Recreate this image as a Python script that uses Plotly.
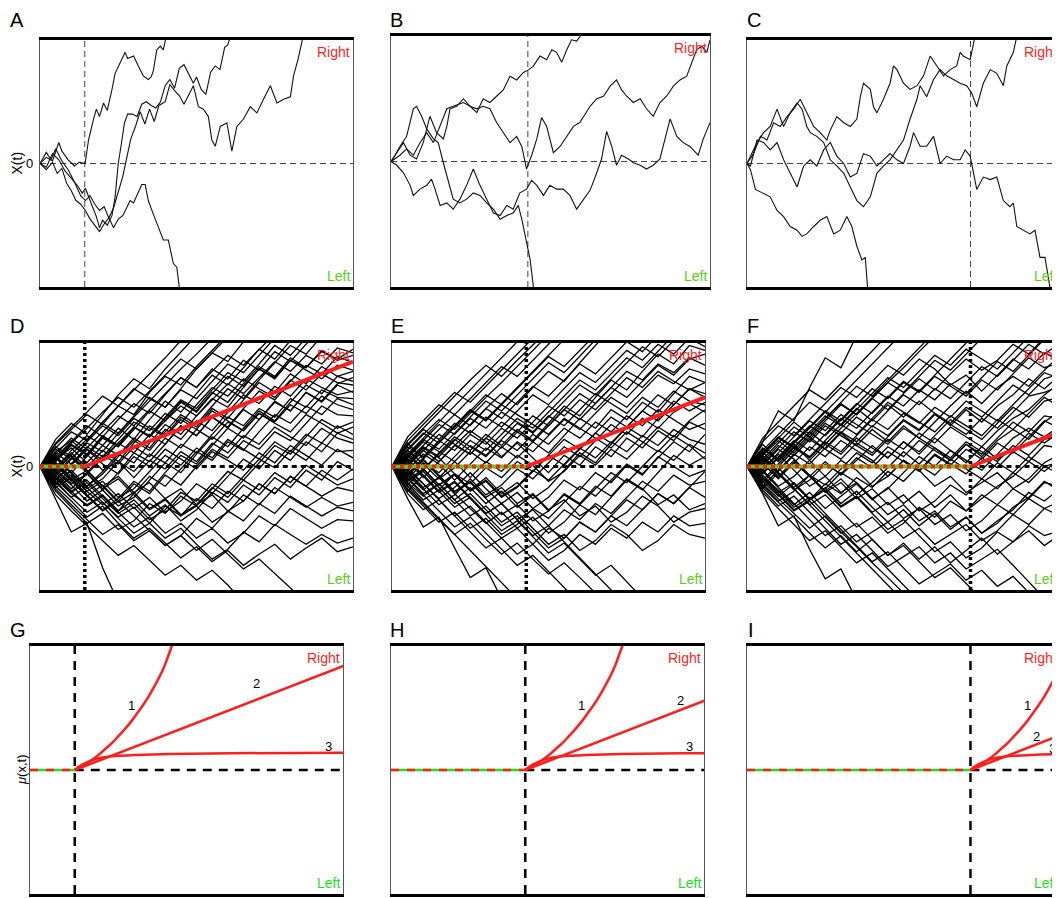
import plotly.graph_objects as go

# ------------------------------------------------------------------ data
panel_letters = ["A", "B", "C", "D", "E", "F", "G", "H", "I"]
onset_t = [14.3, 42.9, 71.4]          # time of the vertical marker in each column
t_range = [0, 100]
x_range = [-10, 10]

# ---- panels A-C : a few single trajectories (time, X(t)) ----
A_t = [
    [0, 2, 4, 6, 7, 9, 11, 12.5, 14.4, 15.5, 17, 18, 19, 20.3, 21.5, 22.4, 23, 24, 25.6, 27.2, 28, 28.8, 29.9,
     31.4, 33, 34.6, 35.5, 36.2, 37.3, 38.4, 39.4, 40.5],
    [0, 2, 4, 6, 8, 10, 12, 13.5, 14.5, 16, 18, 19, 20, 21.5, 23, 24, 25, 26, 27, 28, 29.5, 31, 32.5, 34, 35.5,
     37, 38.5, 40, 41.5, 43, 44.5, 46, 47.5, 49, 50, 51.5, 53, 54.5, 56, 57.5, 59, 60, 61],
    [0, 2, 3.5, 5, 7, 9, 11, 13, 14.5, 16, 17.5, 19, 20.5, 22, 23.5, 25, 26.5, 28, 29, 30.5, 32, 33.5, 35, 36.5,
     38, 40, 41.5, 43, 44.5, 46, 47.5, 49, 50.6, 52.2, 53.8, 54.9, 56, 57.6, 59.7, 61.3, 62.9, 65, 67.2, 69.3,
     71.4, 73.6, 75.7, 77.8, 80, 81, 82.5, 83.7, 84.5],
    [0, 2, 4, 5.5, 7, 8.5, 10, 11.5, 13, 14.5, 16, 17.5, 19, 20.5, 22, 23.5, 25, 26.5, 28.8, 29.9, 31, 32.5,
     33.6, 34.6, 36.2, 37.8, 39.4, 41, 42.6, 43.7, 44.5, 45],
]
A_x = [
    [0, 0.5, 0.2, 1.7, 1.0, 0.3, -0.2, 0.1, 0, 1.9, 3.5, 4.4, 3.8, 4.9, 4.3, 5.2, 6.0, 7.3, 8.2, 9.0, 8.5, 8.6,
     8.7, 7.9, 7.1, 6.8, 7.0, 7.5, 9.2, 9.5, 9.2, 10.5],
    [0, -0.3, 0.8, 0.3, -0.6, -1.2, -1.8, -2.4, -2.0, -3.0, -4.3, -5.2, -4.6, -5.0, -4.2, -2.7, 0, 1.6, 3.3, 4.0,
     4.0, 3.8, 4.8, 5.0, 4.7, 4.5, 5.0, 6.3, 6.8, 6.1, 7.7, 8.0, 7.3, 6.5, 7.0, 6.0, 5.6, 7.4, 7.9, 7.6, 9.4,
     9.6, 10.5],
    [0, 0.9, 0.3, 1.2, 0.2, -0.5, -1.5, -2.6, -3.0, -2.6, -3.3, -3.8, -3.5, -4.4, -3.6, -2.2, -1.0, 0.8, 2.0,
     3.0, 4.2, 3.2, 4.4, 3.4, 4.7, 5.0, 6.4, 5.9, 5.5, 4.8, 5.6, 6.3, 4.6, 4.4, 3.8, 1.9, 1.4, 3.0, 3.3, 1.0,
     3.0, 3.6, 4.6, 4.1, 5.2, 6.3, 4.9, 5.2, 5.4, 7.1, 8.5, 10, 10.8],
    [0, -0.5, 0.1, -0.8, -0.4, -1.6, -2.2, -3.0, -3.3, -3.8, -4.5, -5.0, -5.5, -4.9, -4.4, -5.2, -4.5, -4.2,
     -3.0, -3.2, -2.5, -1.7, -1.7, -3.0, -4.1, -5.1, -6.2, -6.2, -8.1, -8.4, -10, -11],
]

B_t = [
    [0, 2.8, 4.9, 7.0, 9.1, 11.2, 13.3, 15.4, 17.5, 19.5, 22.7, 24.8, 26.9, 28.9, 31.0, 33.1, 35.2, 37.3, 39.4,
     41.5, 43.1, 44.6, 46.7, 48.8, 50.4, 51.9, 53.5, 55.1, 56.6, 58.2, 59.8, 60.8],
    [0, 1.8, 3.9, 6.0, 8.0, 10.1, 12.2, 14.3, 16.4, 17.5, 18.5, 20.6, 22.7, 24.8, 26.9, 28.9, 31.0, 33.1, 35.2,
     37.3, 39.4, 41.0, 42.5, 44.1, 45.7, 47.2, 48.8, 50.9, 53.0, 55.1, 57.2, 59.2, 62.4, 64.5, 66.6, 68.7, 70.7,
     72.3, 73.9, 76.0, 78.1, 80.1, 82.2, 84.3, 86.4, 88.5, 90.6, 92.7, 94.3, 95.8, 97.4, 99.0, 100],
    [0, 1.8, 3.9, 6.0, 7.0, 9.1, 11.2, 12.7, 13.8, 15.4, 17.5, 19.5, 21.6, 23.7, 25.8, 27.9, 30.0, 32.1, 34.2,
     36.3, 38.3, 40.4, 42.5, 44.1, 45.7, 47.8, 49.8, 51.9, 54.0, 56.1, 58.2, 60.3, 62.4, 64.5, 66.0, 67.6, 69.2,
     70.7, 72.3, 74.4, 76.0, 78.1, 80.1, 82.2, 84.3, 86.4, 87.5, 89.6, 91.6, 93.7, 96.3, 97.9, 100],
    [0, 1.3, 2.8, 4.9, 7.0, 8.0, 9.6, 11.2, 13.3, 14.8, 16.4, 18.0, 19.5, 21.6, 23.7, 25.8, 27.9, 30.0, 32.1,
     34.2, 36.3, 38.3, 39.9, 41.0, 42.5, 43.6, 44.6, 45.1],
]
B_x = [
    [0, 0.5, 1.0, 0.5, 1.5, 2.3, 1.5, 2.8, 4.2, 4.4, 4.7, 4.4, 3.9, 5.0, 4.7, 5.2, 5.7, 6.8, 6.5, 7.1, 7.3, 7.6,
     8.4, 8.1, 8.9, 8.7, 7.9, 8.9, 9.7, 9.6, 10.1, 10.5],
    [0, 0.7, 1.5, 0.5, 0.2, 1.5, 3.6, 2.3, 1.8, 2.8, 4.2, 4.4, 5.0, 4.4, 4.2, 4.4, 4.2, 3.1, 2.3, 1.5, 2.0, 1.2,
     -0.6, 0.5, 1.8, 3.5, 2.8, 0.7, 1.2, 2.0, 2.8, 3.1, 4.4, 5.0, 5.2, 6.0, 6.5, 5.7, 5.2, 4.7, 5.0, 4.2, 3.6,
     4.7, 5.2, 6.0, 6.5, 6.8, 7.9, 8.9, 9.2, 8.7, 9.7],
    [0, -0.3, -0.9, -1.9, -2.7, -2.2, -1.9, -1.4, -2.2, -3.5, -3.3, -3.8, -3.0, -1.9, -0.6, -1.9, -3.0, -4.1,
     -4.3, -3.5, -3.8, -2.5, -2.2, -1.5, -1.9, -2.7, -1.9, -2.2, -2.2, -2.7, -3.8, -3.0, -2.3, -0.9, 0.2, 2.4,
     1.2, -0.3, 0.5, 0.2, -0.1, -0.3, -0.6, -0.3, 0.2, 2.3, 3.4, 2.0, 1.5, 1.2, 0.5, 1.8, 3.1],
    [0, 0.5, 1.2, 2.0, 4.2, 4.4, 3.6, 2.6, 1.8, 1.5, -0.1, -1.7, -3.0, -3.3, -3.0, -2.5, -2.7, -3.3, -3.8, -4.6,
     -4.3, -4.1, -3.5, -4.6, -6.4, -7.8, -9.9, -10.9],
]

C_t = [
    [0, 2.1, 4.3, 6.4, 8.5, 10.6, 12.8, 14.9, 17.0, 19.1, 21.3, 23.4, 25.5, 26.6, 28.7, 30.9, 33.0, 35.1, 36.2,
     37.2, 39.4, 40.4, 41.5, 43.6, 45.7, 46.8, 47.9, 50.0, 52.1, 54.3, 56.4, 58.5, 60.6, 62.8, 64.9, 67.0, 68.1,
     69.1, 71.3, 72.9, 73.4],
    [0, 1.1, 3.2, 5.3, 7.4, 9.6, 11.7, 13.8, 16.0, 17.6, 19.1, 20.2, 22.3, 24.5, 26.6, 28.7, 30.9, 33.0, 35.1,
     37.2, 39.4, 41.5, 43.6, 45.7, 47.9, 50.0, 52.1, 54.3, 55.3, 57.4, 59.6, 61.7, 63.8, 66.0, 68.1, 70.2, 71.8,
     73.4, 75.5, 77.7, 79.8, 81.9, 83.0, 85.1, 86.2, 86.7],
    [0, 1.1, 3.2, 5.3, 7.4, 9.6, 11.7, 13.8, 16.0, 18.1, 20.2, 22.3, 24.5, 26.6, 28.7, 30.9, 33.0, 35.1, 37.2,
     39.4, 41.5, 43.6, 45.7, 47.9, 50.0, 52.1, 53.2, 55.3, 57.4, 59.6, 61.7, 63.8, 66.0, 68.1, 69.7, 71.3, 73.4,
     75.5, 77.7, 79.8, 81.9, 84.0, 85.1, 86.2, 88.3, 90.4, 92.0, 93.6, 95.2, 96.8, 97.1],
    [0, 1.1, 2.7, 5.3, 7.4, 9.6, 11.7, 13.8, 16.0, 17.6, 19.1, 21.3, 23.4, 25.5, 27.7, 29.8, 31.9, 33.5, 35.1,
     36.7, 37.8, 38.5, 38.7],
]
C_x = [
    [0, 0.8, 2.2, 1.9, 3.3, 3.0, 3.8, 4.4, 5.2, 4.1, 3.0, 2.5, 1.9, 2.7, 3.8, 3.3, 3.0, 3.6, 5.4, 6.5, 6.0, 4.6,
     4.1, 5.2, 6.5, 7.9, 7.6, 6.5, 6.0, 6.3, 7.1, 8.7, 7.9, 7.1, 7.6, 7.9, 9.0, 8.7, 8.4, 10.2, 11],
    [0, 0.6, 1.7, 2.5, 3.0, 4.4, 3.0, 4.1, 4.9, 4.4, 3.0, 2.5, 2.2, 1.7, 0.3, -0.2, -0.8, -1.9, -3.0, -3.5, -2.7,
     -0.8, -0.2, 0.3, 1.1, 1.9, 3.6, 5.2, 6.3, 5.4, 6.8, 7.6, 7.1, 6.8, 6.5, 6.3, 5.7, 4.6, 6.5, 7.6, 7.3, 6.3,
     7.9, 9.0, 10.1, 10.9],
    [0, -0.2, 1.9, 1.7, 1.1, 1.7, 0.3, -0.8, -1.9, -0.2, 0.3, -0.2, 1.1, 1.7, 0.6, 0.0, -1.1, -0.8, 0.8, 0.6,
     -0.2, 0.3, 0.8, 0.3, 0.0, 1.4, 2.5, 1.4, 1.4, 2.2, 0.0, 0.6, 0.3, 0.3, 1.1, 0.6, -2.1, -1.1, -1.3, -1.1,
     -3.0, -3.5, -3.2, -5.1, -5.4, -5.7, -5.4, -7.6, -7.6, -10.0, -10.5],
    [0, -0.5, -2.1, -2.4, -2.7, -3.8, -4.3, -5.1, -5.4, -5.9, -5.7, -5.1, -4.6, -4.3, -5.7, -5.4, -4.3, -5.1,
     -6.7, -7.8, -7.6, -10.0, -10.5],
]

# ---- panels D-F : ensembles sampled every 5 time units (all start at X = 0) ----
step_t = 5
D_paths = [
    [1.5, 2.8, 2.1, 3.6, 4.9, 4.2, 6.0, 7.3, 6.6, 8.1, 9.4, 10.8, 12],
    [-0.8, 0.6, 1.9, 1.2, 2.7, 4.1, 5.6, 4.8, 6.3, 7.9, 9.2, 8.5, 10.1, 11.5],
    [0.9, -0.5, 0.8, 2.3, 1.6, 3.2, 2.5, 4.0, 5.4, 4.7, 6.2, 7.6, 6.9, 8.3, 9.8, 9.0, 10.4, 12],
    [-1.3, -2.5, -1.6, -0.4, 1.0, 0.3, 1.9, 3.4, 2.6, 4.1, 5.5, 4.8, 6.4, 7.9, 7.1, 8.6, 8.0, 9.3, 8.7, 9.5],
    [2.2, 3.5, 2.6, 4.2, 5.8, 7.1, 6.3, 7.9, 9.3, 10.6, 12],
    [-0.5, -1.8, -0.6, -1.9, -0.5, 1.1, 0.4, 1.8, 3.3, 2.5, 4.0, 3.2, 4.7, 6.1, 5.4, 6.9, 8.2, 7.5, 8.9, 8.4],
    [0.4, 1.7, 0.9, 2.4, 1.6, 3.0, 4.5, 3.7, 5.2, 4.4, 5.9, 7.3, 6.5, 7.9, 7.2, 8.6, 7.8, 7.1, 8.2, 7.8],
    [-1.7, -0.9, -2.3, -3.5, -2.6, -1.2, -2.0, -0.5, 0.9, 0.2, 1.7, 3.1, 2.3, 3.8, 5.2, 4.5, 6.0, 5.3, 6.7, 7.2],
    [1.1, 0.2, 1.6, 0.8, 2.2, 3.6, 2.9, 4.3, 3.5, 5.0, 6.4, 5.7, 7.1, 6.3, 5.6, 7.0, 6.2, 7.5, 6.8, 6.6],
    [-0.2, 1.3, 2.5, 1.7, 0.9, 2.3, 1.5, 3.0, 2.2, 3.7, 2.9, 4.4, 5.8, 5.1, 6.5, 5.7, 7.1, 6.4, 5.8, 6.1],
    [0.7, -0.6, -1.8, -1.0, 0.4, -0.4, 1.0, 0.3, 1.8, 1.1, 2.6, 4.0, 3.3, 4.7, 4.0, 5.5, 4.8, 6.2, 5.6, 5.5],
    [-1.0, -2.2, -3.1, -2.3, -3.6, -2.2, -0.8, -1.6, -0.2, 1.2, 0.5, 2.0, 1.3, 2.8, 4.2, 3.5, 4.9, 4.2, 5.5, 5.0],
    [1.8, 3.0, 4.2, 3.4, 4.9, 6.3, 5.5, 4.8, 6.2, 5.5, 6.9, 8.3, 7.6, 9.0, 10.3, 11.8],
    [-0.6, 0.7, -0.5, 0.9, 0.2, 1.6, 0.8, 2.3, 1.5, 3.0, 2.2, 3.6, 2.9, 4.3, 3.6, 5.0, 4.3, 5.7, 5.0, 4.6],
    [0.3, -1.0, -2.4, -1.5, -2.8, -1.4, -2.2, -0.7, -1.5, 0.0, 1.4, 0.7, 2.1, 1.4, 2.8, 2.1, 3.5, 4.9, 4.2, 4.1],
    [-2.0, -3.3, -4.6, -3.8, -5.1, -4.4, -3.0, -3.8, -2.4, -3.2, -1.8, -0.4, -1.1, 0.3, 1.7, 1.0, 2.4, 3.8, 3.1, 3.6],
    [1.4, 0.6, 2.0, 3.3, 2.5, 3.9, 3.1, 2.4, 3.8, 3.0, 4.5, 3.7, 2.9, 4.3, 3.5, 2.8, 4.2, 3.5, 2.7, 3.2],
    [-1.5, -0.7, -2.0, -1.2, -2.5, -1.8, -0.4, 0.9, 0.1, 1.5, 0.7, 2.2, 1.4, 0.6, 2.0, 1.2, 2.6, 1.9, 3.3, 2.6],
    [0.5, 1.8, 1.0, -0.3, 0.4, -0.9, 0.5, -0.2, 1.2, 0.4, 1.9, 1.1, 2.5, 1.8, 3.2, 2.4, 1.7, 3.1, 2.3, 1.9],
    [-0.9, -2.1, -1.3, -2.6, -3.8, -3.0, -4.3, -3.5, -2.1, -2.8, -1.4, -2.2, -0.8, 0.6, -0.1, 1.3, 0.5, 1.9, 1.2, 1.3],
    [1.0, 2.3, 1.4, 0.2, -0.6, 0.8, 0.0, 1.4, 0.6, -0.2, 1.2, 0.5, -0.3, 1.1, 0.3, 1.7, 0.9, 0.1, 1.4, 0.7],
    [-1.2, -2.5, -3.7, -2.9, -4.2, -5.4, -4.6, -3.2, -4.0, -2.6, -3.4, -2.0, -2.8, -1.4, -2.2, -0.8, -1.6, -0.3, -1.1, -0.2],
    [0.2, -1.1, -0.3, -1.6, -2.9, -2.1, -3.4, -2.6, -3.9, -3.1, -1.7, -2.5, -1.1, -1.9, -0.5, -1.3, 0.1, -0.7, -1.5, -1.0],
    [-0.4, 0.9, -0.3, -1.6, -0.8, -2.1, -1.3, -2.6, -1.8, -3.1, -2.3, -3.6, -2.8, -1.4, -2.2, -0.8, -1.6, -2.4, -1.7, -2.0],
    [1.6, 0.8, -0.5, -1.8, -1.0, -2.3, -3.5, -2.7, -4.0, -3.2, -4.5, -3.7, -2.3, -3.1, -1.7, -2.5, -3.3, -2.5, -3.2, -2.9],
    [-1.8, -3.1, -4.3, -5.5, -4.7, -6.0, -5.2, -6.4, -5.6, -4.2, -5.0, -3.6, -4.4, -3.0, -3.8, -2.4, -3.2, -4.0, -3.3, -3.6],
    [-0.7, -2.0, -3.2, -2.4, -3.7, -4.9, -4.1, -5.4, -4.6, -5.8, -5.0, -6.2, -5.4, -4.0, -4.8, -3.4, -4.2, -5.0, -4.3, -4.4],
    [0.8, -0.5, -1.7, -2.9, -4.1, -3.3, -4.6, -5.8, -5.0, -6.3, -7.5, -6.7, -5.3, -6.1, -4.7, -5.5, -6.3, -5.5, -6.2, -5.8],
    [-2.3, -3.6, -4.8, -6.0, -7.2, -6.4, -7.6, -8.8, -8.0, -9.2, -8.4, -9.6, -11],
    [-2.6, -5.3, -4.6, -8.2, -11],
    [0.6, 1.9, 3.1, 4.4, 5.6, 4.8, 6.1, 7.4, 8.7, 7.9, 9.2, 10.5, 12],
    [-0.3, 1.0, 2.2, 3.5, 2.7, 4.0, 5.3, 6.6, 7.9, 9.1, 10.4, 12],
    [1.9, 3.2, 4.4, 5.7, 4.9, 6.2, 7.5, 8.8, 10.2, 11.5],
    [-1.1, 0.2, 1.5, 2.8, 4.1, 3.3, 4.6, 5.9, 7.2, 6.4, 7.7, 9.0, 8.2, 9.5, 10.8, 12],
    [0.1, -1.2, -2.4, -3.6, -2.8, -4.0, -5.2, -6.4, -5.6, -6.8, -5.9, -7.1, -8.3, -7.5, -8.7, -9.9, -11],
    [-0.2, -1.4, -0.6, 0.7, 1.9, 3.2, 2.4, 3.7, 4.9, 4.1, 5.4, 6.7, 5.9, 7.2, 8.5, 7.7, 9.0, 8.3, 9.6, 9.2],
    [-1.4, -0.3, -1.6, -0.6, 0.8, 2.1, 1.3, 2.8, 4.2, 3.4, 4.9, 6.3, 5.5, 7.0, 8.4, 9.8, 9.1, 10.6, 12],
    [0.6, 1.5, 0.3, 1.7, 3.1, 2.2, 3.8, 5.3, 4.4, 5.9, 7.4, 6.6, 8.0, 9.5, 8.7, 10.2, 11.6],
    [-0.4, -1.5, -2.8, -1.9, -3.2, -2.5, -1.1, 0.3, -0.5, 1.0, 2.4, 1.6, 3.1, 4.5, 3.7, 5.2, 6.6, 5.9, 7.3, 6.9],
    [1.2, 2.1, 1.0, 2.5, 1.7, 3.2, 2.4, 3.9, 5.3, 4.5, 6.0, 5.2, 6.7, 8.1, 7.3, 8.8, 8.0, 9.4, 8.6, 9.0],
    [-1.1, 0.1, 1.4, 0.5, 1.9, 1.1, 2.6, 1.8, 3.3, 2.5, 4.0, 3.1, 4.6, 3.8, 5.3, 4.5, 6.0, 5.2, 6.6, 6.0],
    [0.3, -0.8, -2.0, -3.1, -2.2, -3.4, -2.5, -3.7, -2.8, -1.4, -2.2, -0.8, 0.6, -0.2, 1.3, 0.5, 2.0, 1.2, 2.7, 2.2],
    [-0.9, -2.0, -1.1, -2.4, -3.6, -2.7, -4.0, -3.1, -4.4, -3.5, -2.1, -2.9, -1.5, -2.3, -0.9, -1.7, -0.3, -1.1, 0.4, -0.3],
    [0.8, 2.0, 3.3, 2.4, 3.8, 5.1, 4.3, 5.8, 7.2, 6.4, 7.9, 7.1, 8.6, 7.8, 9.3, 8.5, 9.9, 11.3],
    [-1.6, -2.8, -4.1, -3.2, -4.6, -5.8, -5.0, -6.2, -7.4, -6.5, -7.7, -6.8, -8.0, -7.1, -6.3, -7.5, -6.6, -5.8, -6.9, -6.5],
    [0.0, 1.1, -0.1, 1.3, 0.4, 1.9, 3.3, 2.5, 4.0, 3.2, 4.7, 3.9, 5.4, 6.8, 6.0, 7.5, 6.7, 8.1, 7.3, 7.7],
]
E_paths = [
    [1.3, 2.6, 3.8, 3.0, 4.3, 5.6, 6.8, 8.1, 9.4, 10.7, 12],
    [-0.6, 0.7, 2.0, 3.3, 4.6, 3.8, 5.1, 6.4, 7.7, 9.0, 10.3, 12],
    [0.9, 2.2, 1.4, 2.7, 4.0, 5.3, 4.5, 5.8, 7.1, 8.4, 7.6, 8.9, 10.2, 11.6],
    [2.1, 3.4, 4.7, 6.0, 5.2, 6.5, 7.8, 9.1, 10.4, 12],
    [-1.0, 0.3, -0.5, 0.8, 2.1, 1.3, 2.6, 3.9, 3.1, 4.4, 5.7, 7.0, 6.2, 7.5, 8.8, 8.0, 9.3, 10.6, 12],
    [0.4, -0.9, 0.4, 1.7, 1.0, 2.3, 3.6, 2.8, 4.1, 3.3, 4.6, 5.9, 5.1, 6.4, 7.7, 7.0, 8.3, 7.6, 8.8, 8.2],
    [-0.3, 1.0, 0.2, -1.1, 0.2, 1.5, 0.7, 2.0, 1.2, 2.5, 3.8, 3.0, 4.3, 5.6, 4.8, 6.1, 7.4, 6.7, 7.9, 7.5],
    [1.6, 0.8, 2.1, 1.3, 2.6, 1.8, 3.1, 2.3, 3.6, 4.9, 4.1, 5.4, 4.6, 5.9, 7.2, 6.4, 7.7, 6.9, 6.2, 6.8],
    [-1.4, -2.7, -1.9, -0.6, -1.4, -0.1, -0.9, 0.4, -0.4, 0.9, 2.2, 1.4, 2.7, 4.0, 3.2, 4.5, 5.8, 5.0, 6.3, 5.9],
    [0.8, 2.1, 3.4, 2.6, 3.9, 3.1, 4.4, 3.6, 2.8, 4.1, 3.3, 4.6, 5.9, 5.1, 4.3, 5.6, 4.8, 6.1, 5.3, 5.0],
    [-0.5, -1.8, -3.1, -2.3, -1.0, -2.3, -1.5, -0.2, -1.0, 0.3, 1.6, 0.8, 2.1, 3.4, 2.6, 3.9, 3.1, 4.4, 5.1, 4.4],
    [1.1, -0.2, 1.1, 2.4, 1.6, 0.8, 2.1, 1.3, 2.6, 1.8, 3.1, 2.3, 3.6, 2.8, 4.1, 3.3, 4.6, 3.8, 3.0, 3.5],
    [-1.9, -3.2, -4.5, -3.7, -5.0, -4.2, -5.5, -4.7, -3.4, -4.2, -2.9, -1.6, -2.4, -1.1, 0.2, -0.6, 0.7, 2.0, 1.2, 2.6],
    [0.2, 1.5, 0.7, -0.6, -1.9, -1.1, -2.4, -1.6, -0.3, -1.1, 0.2, 1.5, 0.7, 2.0, 1.2, 2.5, 1.7, 3.0, 2.2, 1.8],
    [-0.8, 0.5, -0.8, -2.1, -1.3, -2.6, -3.9, -3.1, -4.4, -3.6, -2.3, -3.1, -1.8, -0.5, -1.3, 0.0, 1.3, 0.5, 1.8, 1.1],
    [1.4, 2.7, 1.9, 3.2, 4.5, 3.7, 5.0, 4.2, 3.4, 2.6, 3.9, 3.1, 2.3, 1.5, 2.8, 2.0, 1.2, 2.5, 1.7, 0.6],
    [-1.2, -0.4, -1.7, -3.0, -2.2, -3.5, -4.8, -4.0, -5.3, -6.6, -5.8, -4.5, -5.3, -4.0, -2.7, -3.5, -2.2, -3.0, -1.7, -0.4],
    [0.6, -0.7, -2.0, -1.2, -2.5, -3.8, -3.0, -4.3, -5.6, -4.8, -3.5, -4.3, -3.0, -3.8, -2.5, -1.2, -2.0, -0.7, -1.5, -1.2],
    [-2.2, -3.5, -2.7, -4.0, -5.3, -6.6, -5.8, -7.1, -6.3, -5.0, -5.8, -4.5, -5.3, -4.0, -4.8, -3.5, -2.2, -3.0, -1.7, -2.5],
    [1.9, 0.6, -0.7, -2.0, -1.2, -2.5, -1.7, -3.0, -2.2, -3.5, -2.7, -4.0, -3.2, -4.5, -3.7, -2.4, -3.2, -4.5, -3.7, -3.4],
    [-0.1, -1.4, -2.7, -4.0, -3.2, -4.5, -5.8, -5.0, -6.3, -7.6, -6.8, -5.5, -6.3, -5.0, -5.8, -4.5, -5.3, -4.0, -4.8, -4.6],
    [-1.6, -2.9, -4.2, -5.5, -6.8, -8.1, -9.4, -10.7, -12],
    [-2.6, -4.9, -4.1, -6.6, -9.0, -8.2, -10.7, -12],
    [-1.0, -2.3, -3.6, -4.9, -4.1, -5.4, -6.7, -8.0, -7.2, -8.5, -9.8, -11.1],
    [0.5, -0.8, -2.1, -1.3, -2.6, -3.9, -5.2, -4.4, -5.7, -7.0, -6.2, -7.5, -8.8, -8.0, -9.3, -10.6, -12],
    [1.0, 2.3, 3.6, 4.9, 6.2, 7.5, 8.8, 10.1, 11.4],
    [-0.7, 0.6, 1.9, 3.2, 4.5, 5.8, 5.0, 6.3, 7.6, 8.9, 8.1, 9.4, 10.7, 12],
    [0.3, 1.6, 0.8, 2.1, 3.4, 4.7, 3.9, 5.2, 6.5, 5.7, 7.0, 8.3, 7.5, 8.8, 10.1, 9.3, 10.6, 12],
    [-0.4, -1.7, -0.9, 0.4, 1.7, 0.9, 2.2, 3.5, 2.7, 4.0, 5.3, 6.6, 5.8, 7.1, 8.4, 9.7, 8.9, 10.2, 11.5],
    [1.7, 3.0, 2.2, 3.5, 2.7, 4.0, 3.2, 4.5, 5.8, 5.0, 6.3, 7.6, 6.8, 8.1, 9.4, 8.6, 9.9, 9.1, 10.4, 9.7],
    [-1.5, -0.2, -1.5, -0.7, -2.0, -1.2, -2.5, -1.7, -0.4, 0.9, 0.1, 1.4, 2.7, 1.9, 3.2, 4.5, 3.7, 5.0, 6.3, 5.6],
    [0.0, 1.3, 2.6, 1.8, 1.0, 2.3, 1.5, 2.8, 2.0, 3.3, 4.6, 3.8, 5.1, 6.4, 5.6, 6.9, 8.2, 7.4, 8.7, 9.1],
    [-0.9, -2.2, -1.4, -2.7, -4.0, -3.2, -4.5, -3.7, -5.0, -6.3, -5.5, -6.8, -6.0, -4.7, -5.5, -6.8, -6.0, -4.7, -5.5, -5.8],
    [0.7, 2.0, 1.2, 0.4, -0.9, 0.4, -0.4, 0.9, 0.1, -1.2, -0.4, 0.9, 0.1, 1.4, 0.6, 1.9, 3.2, 2.4, 3.7, 4.6],
    [-2.0, -0.7, -2.0, -3.3, -2.5, -3.8, -3.0, -4.3, -3.5, -4.8, -6.1, -7.4, -8.7, -10.0, -11.3],
    [2.4, 3.7, 5.0, 4.2, 5.5, 6.8, 8.1, 7.3, 8.6, 9.9, 11.2],
    [0.9, -0.3, 1.0, 2.2, 1.3, 2.6, 1.7, 3.0, 2.1, 3.5, 4.9, 4.1, 5.6, 7.0, 6.2, 7.7, 9.1, 8.3, 9.8, 9.4],
    [-1.1, -0.2, -1.5, -0.6, -1.9, -0.9, -2.2, -1.3, -2.6, -1.7, -0.3, 1.1, 0.3, 1.8, 3.2, 2.4, 3.9, 5.3, 4.5, 5.2],
    [0.5, 1.7, 3.0, 4.2, 3.3, 4.7, 5.9, 5.0, 6.4, 7.7, 6.9, 8.4, 9.8, 11.2],
    [-0.7, -1.9, -0.9, -2.2, -3.4, -4.6, -3.7, -5.0, -4.1, -5.4, -4.5, -3.1, -3.9, -2.5, -1.1, -1.9, -0.5, 0.9, 0.1, 0.8],
    [1.3, 0.2, -1.0, -0.1, 1.2, 0.3, 1.6, 0.7, 2.0, 1.1, 2.5, 3.9, 3.1, 4.6, 3.8, 5.2, 4.4, 5.9, 7.3, 6.8],
    [-1.8, -3.0, -4.3, -5.5, -4.6, -5.9, -7.1, -6.2, -7.5, -8.7, -7.8, -9.0, -10.3, -11.5],
    [0.1, 1.3, 0.4, 1.7, 2.9, 2.0, 0.8, 1.9, 0.7, -0.5, 0.9, 0.1, 1.6, 0.8, 2.3, 1.5, 2.9, 2.1, 3.6, 3.0],
    [-0.3, -1.4, -2.6, -1.7, -0.5, -1.8, -3.0, -2.1, -3.4, -2.5, -1.1, -1.9, -0.5, -1.3, 0.1, -0.7, 0.8, 0.0, -0.8, -0.3],
    [1.8, 3.1, 4.4, 5.7, 7.0, 8.2, 7.3, 8.6, 9.8, 11.0, 12.3],
    [-1.3, -2.4, -1.4, -2.7, -1.7, -3.0, -2.0, -3.3, -2.3, -3.6, -2.2, -3.0, -1.6, -2.4, -1.0, -1.8, -3.1, -2.3, -3.5, -3.0],
]
F_paths = [
    [2.0, 4.5, 3.7, 6.4, 8.8, 8.0, 10.6, 12],
    [-2.2, -4.8, -4.0, -6.7, -9.1, -8.3, -10.8, -12],
    [1.3, 2.6, 3.9, 5.2, 4.4, 5.7, 7.0, 8.3, 9.6, 10.9, 12],
    [-0.6, 0.7, 2.0, 3.3, 2.5, 3.8, 5.1, 4.3, 5.6, 6.9, 6.1, 7.4, 8.7, 10.0, 11.3],
    [0.9, -0.4, 0.9, 2.2, 3.5, 2.7, 4.0, 3.2, 4.5, 5.8, 5.0, 6.3, 5.5, 6.8, 8.1, 7.3, 8.6, 9.9, 9.1, 10.0],
    [2.0, 3.3, 2.5, 3.8, 5.1, 6.4, 5.6, 6.9, 8.2, 7.4, 8.7, 7.9, 6.6, 7.4, 6.1, 7.4, 8.7, 7.9, 9.2, 8.6],
    [-1.1, 0.2, 1.5, 0.7, 2.0, 1.2, 2.5, 3.8, 3.0, 4.3, 3.5, 4.8, 4.0, 5.3, 4.5, 3.7, 5.0, 6.3, 7.6, 7.1],
    [0.4, 1.7, 0.9, 2.2, 1.4, 0.6, 1.9, 1.1, 2.4, 3.7, 2.9, 4.2, 3.4, 2.6, 3.9, 3.1, 4.4, 5.7, 6.0, 6.5],
    [-0.3, -1.6, -0.8, 0.5, 1.8, 1.0, 2.3, 1.5, 0.7, 2.0, 1.2, 2.5, 3.8, 3.0, 2.2, 3.5, 4.8, 4.0, 5.3, 5.6],
    [1.1, 2.4, 1.6, 0.8, 2.1, 3.4, 2.6, 3.9, 5.2, 4.4, 3.6, 2.8, 4.1, 3.3, 2.5, 3.8, 3.0, 4.3, 5.6, 4.8],
    [-1.5, -2.8, -2.0, -0.7, -1.5, -0.2, 1.1, 0.3, 1.6, 0.8, 2.1, 1.3, 0.5, 1.8, 1.0, 2.3, 3.6, 2.8, 4.1, 3.9],
    [0.7, -0.6, -1.9, -1.1, 0.2, -0.6, 0.7, -0.1, 1.2, 0.4, -0.4, 0.9, 0.1, 1.4, 0.6, 1.9, 1.1, 2.4, 3.7, 3.1],
    [-0.2, 1.1, 2.4, 3.7, 2.9, 4.2, 3.4, 2.6, 1.8, 3.1, 2.3, 1.5, 0.7, 2.0, 1.2, 0.4, 1.7, 0.9, 2.2, 2.5],
    [1.8, 0.5, 1.8, 0.5, -0.8, 0.5, -0.3, -1.6, -0.8, 0.5, -0.3, 1.0, 0.2, -0.6, 0.7, -0.1, 1.2, 0.4, 1.7, 1.5],
    [-0.9, -2.2, -3.5, -2.7, -1.4, -2.2, -0.9, -1.7, -0.4, -1.2, 0.1, -0.7, 0.6, -0.2, -1.0, 0.3, -0.5, 0.8, 0.0, 0.4],
    [0.5, -0.8, 0.5, -0.8, -2.1, -1.3, -2.6, -1.8, -3.1, -2.3, -3.6, -2.8, -1.5, -2.3, -1.0, -1.8, -0.5, -1.3, 0.0, -0.6],
    [-1.8, -0.5, -1.8, -3.1, -2.3, -3.6, -4.9, -4.1, -5.4, -4.6, -3.3, -4.1, -2.8, -3.6, -2.3, -3.1, -1.8, -2.6, -1.3, -1.6],
    [1.2, -0.1, -1.4, -2.7, -1.9, -3.2, -2.4, -3.7, -2.9, -4.2, -3.4, -4.7, -3.9, -5.2, -4.4, -3.1, -3.9, -2.6, -3.4, -2.8],
    [-0.4, -1.7, -3.0, -4.3, -5.6, -4.8, -6.1, -5.3, -4.5, -5.8, -5.0, -6.3, -5.5, -4.7, -6.0, -5.2, -3.9, -4.7, -3.4, -4.0],
    [0.1, 1.4, 0.6, -0.7, -2.0, -3.3, -2.5, -3.8, -5.1, -4.3, -5.6, -6.9, -6.1, -7.4, -6.6, -5.3, -6.1, -4.8, -5.6, -5.2],
    [-2.1, -3.4, -4.7, -6.0, -5.2, -6.5, -7.8, -7.0, -8.3, -9.6, -10.9, -12],
    [-1.0, -2.3, -3.6, -2.8, -4.1, -5.4, -4.6, -5.9, -7.2, -6.4, -7.7, -9.0, -8.2, -9.5, -10.8, -12],
    [0.8, -0.5, -1.8, -3.1, -4.4, -5.7, -7.0, -8.3, -9.6, -10.9, -12],
    [-0.7, -2.0, -3.3, -2.5, -3.8, -5.1, -6.4, -7.7, -6.9, -8.2, -9.5, -8.7, -7.9, -9.2, -8.4, -9.7, -8.9, -10.2, -11.5],
    [2.3, 3.6, 4.9, 6.2, 5.4, 6.7, 8.0, 9.3, 10.6, 12],
    [-1.3, 0.0, 1.3, 2.6, 3.9, 5.2, 6.5, 5.7, 7.0, 8.3, 9.6, 10.9, 12],
    [0.6, 1.9, 3.2, 2.4, 3.7, 5.0, 4.2, 5.5, 6.8, 6.0, 7.3, 8.6, 7.8, 9.1, 10.4, 12],
    [-0.5, 0.8, 2.1, 1.3, 2.6, 3.9, 3.1, 4.4, 5.7, 4.9, 6.2, 5.4, 6.7, 5.9, 7.2, 8.5, 7.7, 9.0, 10.3, 11.6],
    [1.4, 0.6, 1.9, 3.2, 4.5, 3.7, 5.0, 6.3, 5.5, 6.8, 6.0, 7.3, 6.5, 5.7, 7.0, 6.2, 7.5, 8.8, 8.0, 8.4],
    [-1.6, -0.3, 1.0, 0.2, 1.5, 2.8, 2.0, 3.3, 2.5, 3.8, 3.0, 4.3, 3.5, 4.8, 4.0, 5.3, 6.6, 5.8, 7.1, 7.5],
    [0.3, -1.0, 0.3, 1.6, 0.8, 2.1, 1.3, 0.5, -0.8, 0.5, -0.3, -1.6, -0.8, -2.1, -1.3, -0.5, -1.8, -1.0, 0.3, 1.0],
    [-0.8, -2.1, -1.3, -2.6, -1.8, -0.5, -1.3, -2.6, -3.9, -3.1, -4.4, -3.6, -4.9, -4.1, -5.4, -4.6, -3.3, -2.5, -1.2, -2.0],
    [1.0, 2.3, 1.5, 2.8, 4.1, 3.3, 4.6, 5.9, 7.2, 6.4, 7.7, 9.0, 8.2, 9.5, 8.7, 7.9, 9.2, 10.5, 11.8],
    [-1.9, -3.2, -2.4, -3.7, -5.0, -6.3, -5.5, -6.8, -8.1, -7.3, -6.5, -7.8, -7.0, -8.3, -7.5, -6.7, -8.0, -9.3, -10.6, -12],
    [0.2, 1.5, 2.8, 2.0, 3.3, 2.5, 1.7, 0.9, 2.2, 1.4, 2.7, 1.9, 3.2, 2.4, 1.6, 2.9, 3.9, 4.6, 5.8, 6.8],
    [-0.3, 1.0, -0.3, -1.6, -0.8, -2.1, -1.3, -2.6, -1.8, -0.5, 0.8, 0.0, 1.3, 0.5, -0.3, 1.0, 2.3, 3.1, 2.4, 3.3],
    [1.1, 2.3, 3.6, 2.6, 3.9, 5.1, 4.2, 5.5, 4.6, 5.9, 7.1, 6.2, 7.5, 8.7, 7.8, 8.6, 9.9, 9.1, 10.5, 11.8],
    [-1.2, -2.4, -1.4, -2.7, -1.7, -3.0, -2.0, -3.3, -4.5, -3.5, -4.8, -3.8, -5.1, -4.1, -5.4, -4.4, -3.5, -2.1, -2.8, -1.8],
    [0.6, -0.5, -1.7, -0.7, -2.0, -1.0, -2.3, -1.3, -0.1, 1.2, 0.2, 1.5, 0.5, 1.8, 0.8, 2.1, 3.0, 2.2, 3.6, 4.5],
    [-0.5, 0.7, 1.9, 3.1, 4.4, 3.4, 4.7, 3.7, 5.0, 4.0, 5.3, 4.3, 3.3, 4.6, 3.6, 4.9, 5.8, 7.1, 6.3, 7.4],
    [1.5, 0.4, 1.6, 2.8, 1.8, 3.1, 4.3, 5.6, 6.8, 8.0, 9.3, 10.5, 11.8],
    [-1.7, -2.9, -4.1, -5.4, -6.6, -5.6, -6.9, -5.9, -7.2, -6.2, -7.5, -6.5, -7.8, -6.8, -5.8, -7.1, -6.1, -5.2, -6.4, -5.5],
    [0.2, -0.9, 0.3, -0.8, 0.4, -0.7, 0.5, 1.7, 0.7, 2.0, 1.0, 2.3, 1.3, 0.3, 1.6, 0.6, 1.4, 2.7, 1.9, 2.8],
    [-0.8, -1.9, -3.1, -2.1, -3.4, -2.4, -1.4, -2.7, -1.7, -3.0, -2.0, -3.3, -2.3, -3.6, -2.6, -1.6, -0.8, 0.4, -0.4, 0.7],
    [0.9, 2.1, 1.1, 2.4, 1.4, 2.7, 1.7, 3.0, 2.0, 3.3, 2.3, 3.6, 4.9, 6.1, 5.1, 6.4, 7.3, 6.5, 7.8, 9.0],
    [-1.4, -2.6, -3.8, -5.0, -4.0, -5.3, -6.5, -7.8, -9.0, -10.3, -11.5],
]
mean_end_x = [8.5, 5.6, 2.8]          # red mean line value at t = 100 in D, E, F

# ---- panels G-I : drift mu(x,t) curves, as function of time since onset ----
curve1_dt = [0, 2, 4, 6, 8, 10, 12, 14, 16, 18, 20, 22, 24, 26, 28, 29, 30, 31, 32]
curve1_mu = [0, 0.25, 0.55, 0.9, 1.3, 1.75, 2.2, 2.75, 3.3, 3.9, 4.6, 5.3, 6.1, 7.0, 8.0, 8.6, 9.3, 10.0, 10.8]
curve2_dt = [0, 86]
curve2_mu = [0, 8.4]
curve3_dt = [0, 1, 2, 3, 4, 6, 8, 10, 14, 19, 30, 50, 86]
curve3_mu = [0, 0.22, 0.38, 0.52, 0.64, 0.83, 0.97, 1.05, 1.14, 1.2, 1.29, 1.35, 1.4]
curve_names = ["1", "2", "3"]
label_t = [[32.5, 72.5, 95.4], [60.9, 92.6, 95.3], [89.7, 92.6, 97.6]]
label_mu = [[5.2, 7.0, 1.9], [5.2, 5.6, 1.9], [5.2, 2.7, 1.75]]

# ------------------------------------------------------------------ layout
PAGE_W, PAGE_H = 1060, 898
PAGE_MARGIN = 8                      # browser body margin around the plot div
W, H = PAGE_W - PAGE_MARGIN, PAGE_H - PAGE_MARGIN

# left, right, top, bottom of each panel, in page pixels
boxes = [
    (40, 353, 40, 287), (391, 710, 36, 287), (747, 1060, 40, 287),
    (40, 353, 343, 590), (392, 705, 343, 590), (747, 1060, 343, 590),
    (30, 343, 646, 894), (391, 704, 646, 894), (747, 1060, 646, 894),
]
letter_pos = [(9, 8), (389, 8), (746, 8), (9, 314), (390, 314), (746, 314),
              (9, 618), (389, 618), (747, 618)]


def px(p):
    return (p - PAGE_MARGIN) / W


def py(p):
    return 1 - (p - PAGE_MARGIN) / H


RED = "#ff1f1f"
GREEN_A = "#5ccc1c"
GREEN_G = "#1fe01f"
FONT = "Liberation Sans, Arial, Helvetica, sans-serif"

fig = go.Figure()


def axis_ids(n):
    return ("x" if n == 1 else f"x{n}"), ("y" if n == 1 else f"y{n}")


def add_line(n, xs, ys, color, width, dash=None, shape="linear"):
    xa, ya = axis_ids(n)
    line = dict(color=color, width=width, shape=shape)
    if dash:
        line["dash"] = dash
    fig.add_trace(go.Scatter(x=xs, y=ys, mode="lines", line=line, xaxis=xa, yaxis=ya,
                             hoverinfo="skip", showlegend=False))


def joined(ts, xs):
    T, X = [], []
    for t, x in zip(ts, xs):
        T += list(t) + [None]
        X += list(x) + [None]
    return T, X


for i in range(9):
    n = i + 1
    l, r, tp, bt = boxes[i]
    xa, ya = axis_ids(n)
    xkey = "xaxis" if n == 1 else f"xaxis{n}"
    ykey = "yaxis" if n == 1 else f"yaxis{n}"
    fig.layout[xkey] = dict(domain=[px(l), min(1.0, px(r))], range=t_range, anchor=ya, showgrid=False,
                            zeroline=False, showticklabels=False, ticks="", showline=True, mirror=True,
                            linewidth=2.5, linecolor="black", fixedrange=True)
    fig.layout[ykey] = dict(domain=[max(0.0, py(bt)), py(tp)], range=x_range, anchor=xa, showgrid=False,
                            zeroline=False, showticklabels=False, ticks="", showline=True, mirror=True,
                            linewidth=1.2, linecolor="#555555", fixedrange=True)

# ---- row 1: single trajectories
for col, (TT, XX) in enumerate([(A_t, A_x), (B_t, B_x), (C_t, C_x)]):
    n = col + 1
    on = onset_t[col]
    add_line(n, t_range, [0, 0], "#444444", 1, "6px,4px")
    add_line(n, [on, on], x_range, "#444444", 1, "6px,4px")
    T, X = joined(TT, XX)
    add_line(n, T, X, "#111111", 1.1)

# ---- row 2: ensembles
for col, paths in enumerate([D_paths, E_paths, F_paths]):
    n = col + 4
    on = onset_t[col]
    ts = [[step_t * k for k in range(len(p) + 1)] for p in paths]
    xs = [[0] + p for p in paths]
    T, X = joined(ts, xs)
    add_line(n, T, X, "#000000", 1.3)
    add_line(n, [on, t_range[1]], [0, 0], "black", 3, "5px,4px")
    add_line(n, [on, on], x_range, "black", 3.5, "3px,3px")
    add_line(n, [0, on], [0, 0], GREEN_A, 4)
    add_line(n, [0, on], [0, 0], RED, 4, "4px,4px")
    add_line(n, [on, t_range[1]], [0, mean_end_x[col]], RED, 4)

# ---- row 3: drift curves
for col in range(3):
    n = col + 7
    on = onset_t[col]
    add_line(n, [on, on], x_range, "black", 2.5, "9px,7px")
    add_line(n, [on, t_range[1]], [0, 0], "black", 2.5, "9px,7px")
    add_line(n, [0, on], [0, 0], GREEN_G, 2.5)
    add_line(n, [0, on], [0, 0], RED, 2.5, "8px,8px")
    for dts, mus in [(curve1_dt, curve1_mu), (curve2_dt, curve2_mu), (curve3_dt, curve3_mu)]:
        add_line(n, [on + d for d in dts], mus, RED, 2.5, shape="spline")
    for k in range(3):
        xa, ya = axis_ids(n)
        fig.add_annotation(x=label_t[col][k], y=label_mu[col][k], xref=xa, yref=ya, text=curve_names[k],
                           showarrow=False, font=dict(size=13, color="black", family=FONT))

# ---- texts
for i in range(9):
    n = i + 1
    xa, ya = axis_ids(n)
    green = GREEN_G if i >= 6 else GREEN_A
    fig.add_annotation(x=1, y=1, xref=f"{xa} domain", yref=f"{ya} domain", text="Right", showarrow=False,
                       xanchor="right", yanchor="top", xshift=-1, yshift=-2,
                       font=dict(size=14, color=RED, family=FONT))
    fig.add_annotation(x=1, y=0, xref=f"{xa} domain", yref=f"{ya} domain", text="Left", showarrow=False,
                       xanchor="right", yanchor="bottom", xshift=-1, yshift=1,
                       font=dict(size=14, color=green, family=FONT))
    lx, ly = letter_pos[i]
    fig.add_annotation(x=px(lx), y=py(ly), xref="paper", yref="paper", text=panel_letters[i],
                       showarrow=False, xanchor="left", yanchor="top", borderpad=0,
                       font=dict(size=20, color="black", family=FONT))

for n in (1, 4):
    xa, ya = axis_ids(n)
    fig.add_annotation(x=px(35), y=0, xref="paper", yref=ya, text="0", showarrow=False, xanchor="right",
                       yanchor="middle", font=dict(size=13, color="black", family=FONT))
    fig.add_annotation(x=px(17), y=0, xref="paper", yref=ya, text="X(t)", showarrow=False, textangle=-90,
                       xanchor="center", yanchor="middle", font=dict(size=14, color="black", family=FONT))
fig.add_annotation(x=px(21), y=0, xref="paper", yref="y7", text="<i>μ</i>(x,t)", showarrow=False,
                   textangle=-90, xanchor="center", yanchor="middle",
                   font=dict(size=13, color="black", family=FONT))

fig.update_layout(width=W, height=H, margin=dict(l=0, r=0, t=0, b=0), paper_bgcolor="white",
                  plot_bgcolor="white", showlegend=False, font=dict(family=FONT))

fig.write_html("out.html")
